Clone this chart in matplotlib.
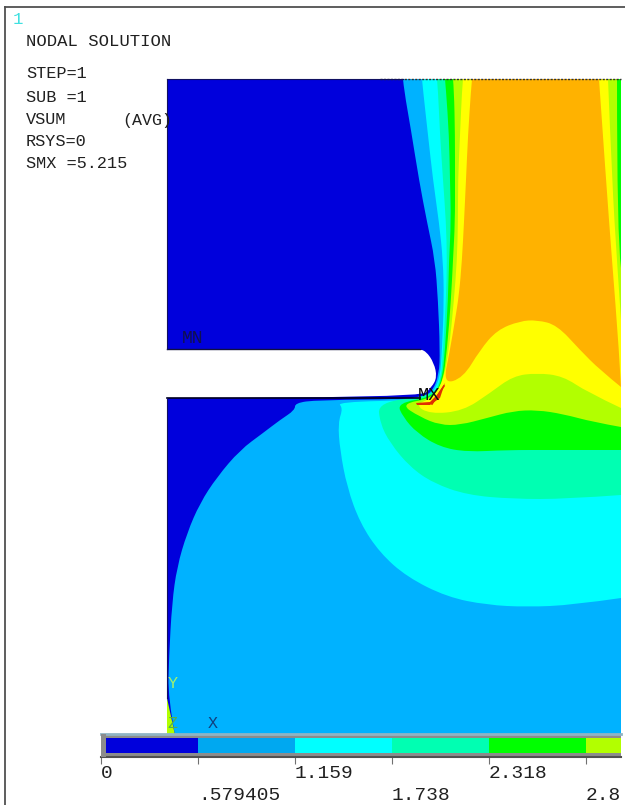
import matplotlib
matplotlib.use("Agg")
import matplotlib.pyplot as plt
from matplotlib.path import Path
from matplotlib.patches import PathPatch

# contour bands, in pixel coords of the screenshot
corpo = [(167, 79), (621, 79), (621, 735), (167, 735), (167, 398), (420, 398), (432, 387), (437, 377),
         (434, 363), (426, 351), (418, 349), (167, 349)]

azul_x = [(403, 79), (404, 90), (411, 130), (419, 180), (427, 222), (435, 260), (438, 300), (440, 350),
          (439, 375), (432, 392), (420, 399), (317, 400), (295, 403), (295, 410), (280, 420), (263, 433),
          (240, 450), (217, 477), (200, 503), (187, 533), (177, 567), (172, 603), (169, 657), (168, 698),
          (175, 735), (621, 735), (621, 79)]
ciano_x = [(422, 79), (423, 90), (428, 135), (433, 180), (439, 222), (443, 260), (444, 300), (442, 350),
           (440, 378), (432, 394), (422, 400), (337, 402), (343, 408), (338, 423), (340, 450), (347, 487),
           (360, 523), (380, 553), (407, 577), (447, 597), (487, 605), (527, 607), (573, 605), (621, 598),
           (621, 79)]
primavera_x = [(437, 79), (438, 90), (440, 135), (443, 180), (446, 222), (447, 260), (446, 300), (443, 350),
               (441, 380), (432, 396), (378, 402), (380, 423), (390, 443), (410, 467), (433, 483), (467, 495),
               (513, 499), (567, 499), (621, 495), (621, 79)]
verde_x = [(445, 79), (446, 90), (449, 135), (450, 180), (451, 222), (449, 260), (448, 300), (445, 350),
           (442, 380), (433, 397), (397, 403), (403, 417), (417, 433), (440, 447), (467, 452), (507, 450),
           (553, 450), (621, 450), (621, 79)]
lima_x = [(453, 79), (454, 90), (455, 135), (455, 180), (455, 222), (453, 260), (451, 300), (447, 350),
          (443, 381), (434, 398), (400, 404), (420, 417), (440, 425), (460, 425), (487, 418), (513, 411),
          (537, 410), (563, 414), (593, 422), (621, 427), (621, 268), (617, 240), (617, 79)]
amarelo_x = [(463, 79), (462, 90), (460, 135), (458, 180), (458, 222), (457, 260), (454, 300), (449, 350),
             (443, 382), (432, 398), (415, 405), (430, 414), (463, 411), (490, 393), (513, 376), (537, 373),
             (563, 376), (587, 392), (621, 408), (621, 320), (617, 262), (612, 180), (608, 79)]
laranja_x = [(472, 79), (471, 90), (468, 135), (466, 180), (464, 222), (462, 260), (459, 295), (455, 320),
             (450, 350), (443, 384), (463, 378), (480, 350), (497, 330), (520, 321), (537, 320), (557, 325),
             (580, 350), (600, 370), (621, 387), (619, 350), (612, 260), (606, 180), (599, 79)]
vermelho_x = [(416, 403), (430, 402), (437, 395), (445, 383), (440, 398), (430, 405), (417, 405)]
canto_z = [(167, 698), (175, 735), (167, 735)]

bandas = [corpo, azul_x, ciano_x, primavera_x, verde_x, lima_x, amarelo_x, laranja_x, vermelho_x, canto_z]
cores_bandas = ["#0000DC", "#00B2FF", "#00FFFF", "#00FFB2", "#00FF00", "#B2FF00", "#FFFF00", "#FFB200",
                "#E03000", "#B2FF00"]

# legend
niveis = [0, 0.579405, 1.159, 1.738, 2.318, 2.897]
passo = 0.579405
cores_legenda = ["#0000DC", "#00A8F0", "#00FFFF", "#00FFB2", "#00FF00", "#B2FF00"]
rotulos = ["0", ".579405", "1.159", "1.738", "2.318", "2.8"]

info = ["STEP=1", "SUB =1", "VSUM", "RSYS=0", "SMX =5.215"]
info_y = [74, 97, 120, 142, 164]

FONTE = "Liberation Mono"


def eh_canto(p):
    return p[0] in (167, 621) or p[1] in (79, 735)


def contorno_suave(pontos):
    # points on the window edges stay sharp, the rest are curve control points
    inicio = next(i for i, p in enumerate(pontos) if eh_canto(p))
    anel = pontos[inicio:] + pontos[:inicio] + [pontos[inicio]]
    verts = [anel[0]]
    codes = [Path.MOVETO]
    trecho = []
    for p in anel[1:]:
        if not eh_canto(p):
            trecho.append(p)
            continue
        for i, c in enumerate(trecho):
            if i < len(trecho) - 1:
                fim = ((c[0] + trecho[i + 1][0]) / 2, (c[1] + trecho[i + 1][1]) / 2)
            else:
                fim = p
            verts += [c, fim]
            codes += [Path.CURVE3, Path.CURVE3]
        if not trecho:
            verts.append(p)
            codes.append(Path.LINETO)
        trecho = []
    return Path(verts, codes)


fig = plt.figure(figsize=(6.25, 8.05), dpi=100)
ax = fig.add_axes([0, 0, 1, 1])
ax.set_xlim(0, 625)
ax.set_ylim(805, 0)
ax.axis("off")

for banda, cor in zip(bandas, cores_bandas):
    if banda is vermelho_x or banda is canto_z:
        xs, ys = zip(*banda)
        ax.fill(xs, ys, color=cor, lw=0)
    else:
        ax.add_patch(PathPatch(contorno_suave(banda), facecolor=cor, edgecolor="none", lw=0))

# outlines
ax.plot([167, 420], [349, 349], color="#101040", lw=1)
ax.plot([167, 420], [398, 398], color="#000020", lw=1.2)
ax.plot([380, 621], [79, 79], color="#303030", lw=1, ls=(0, (1.5, 1)))
ax.plot([167, 403], [79, 79], color="#101060", lw=0.8)
ax.plot([167, 167], [79, 349], color="#101060", lw=0.8)
ax.plot([167, 167], [398, 698], color="#101060", lw=0.8)
ax.plot([432, 444], [404, 386], color="#E03000", lw=1.2)

# window frame
ax.plot([5, 5], [805, 7], color="#505050", lw=1.3)
ax.plot([5, 625], [7, 7], color="#505050", lw=1.3)

ax.text(13, 20, "1", color="#40E0E0", family=FONTE, fontsize=12.5, ha="left", va="center")
ax.text(26, 41, "NODAL SOLUTION", color="#202020", family=FONTE, fontsize=12.4, va="center")
for linha, y in zip(info, info_y):
    ax.text(26, y, linha, color="#202020", family=FONTE, fontsize=12.2, va="center")
ax.text(122, 120, "(AVG)", color="#202020", family=FONTE, fontsize=12, va="center")

ax.text(182, 338, "MN", color="#101050", family=FONTE, fontsize=13, va="center")
ax.text(418, 395, "MX", color="#101010", family=FONTE, fontsize=13.5, va="center")
ax.text(173, 683, "Y", color="#A0F070", family=FONTE, fontsize=12, ha="center", va="center")
ax.text(172, 723, "Z", color="#50B050", family=FONTE, fontsize=12, ha="center", va="center")
ax.text(213, 723, "X", color="#104080", family=FONTE, fontsize=12, ha="center", va="center")

# legend bar, cut at the same edge as the plot
px_por_valor = 97 / passo
leg = fig.add_axes([101 / 625, (805 - 757) / 805, 520 / 625, 23 / 805])
leg.set_facecolor("#8C8C8C")
leg.set_xlim(0, 520 / px_por_valor)
leg.set_ylim(0, 1)
leg.bar(niveis, 0.65, width=passo, bottom=0.17, align="edge", color=cores_legenda, lw=0)
leg.axvspan(0, 5 / px_por_valor, color="#8C8C8C", lw=0, zorder=3)
leg.set_yticks([])
leg.set_xticks(niveis)
leg.set_xticklabels(rotulos, family=FONTE, fontsize=14, color="#202020", ha="left")
leg.tick_params(axis="x", length=5, width=0.8, color="#707070")
for i, tick in enumerate(leg.xaxis.get_major_ticks()):
    tick.set_pad(0.5 if i % 2 == 0 else 16.5)
for lado in ["left", "right"]:
    leg.spines[lado].set_visible(False)
leg.spines["top"].set_color("#90B4C4")
leg.spines["top"].set_linewidth(2)
leg.spines["bottom"].set_color("#505050")
leg.spines["bottom"].set_linewidth(1.5)

fig.savefig("out.png", dpi=100, facecolor="white")
